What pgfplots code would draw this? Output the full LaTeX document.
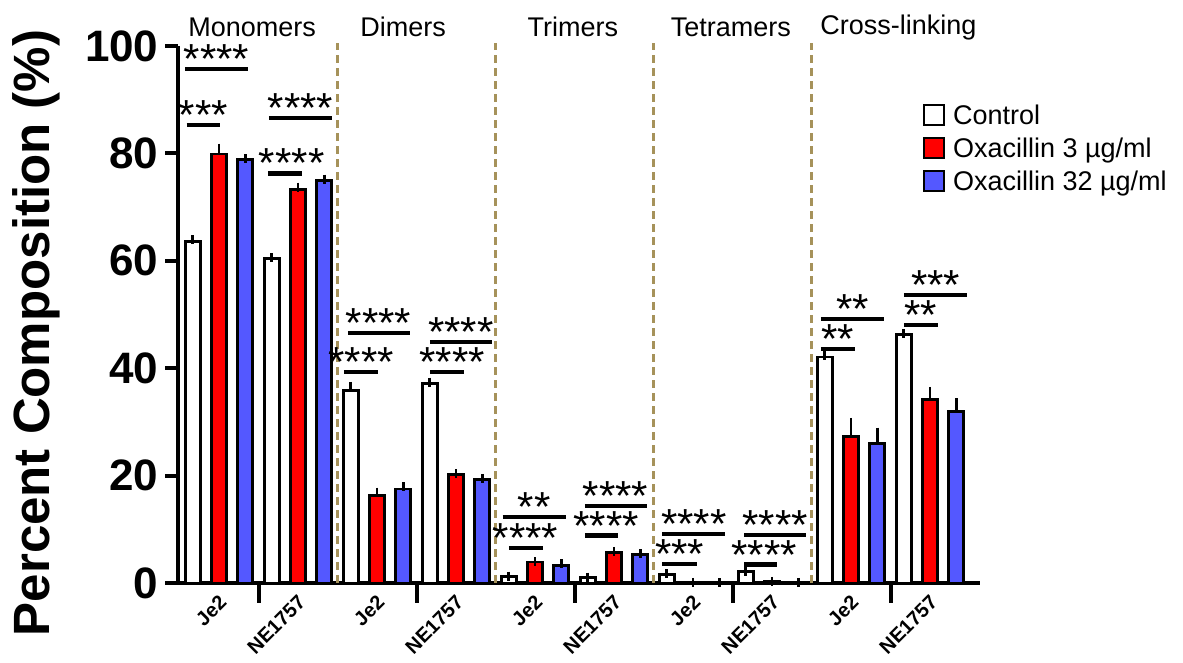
\documentclass[border=0pt]{standalone}
\usepackage{pgfplots}
\pgfplotsset{compat=1.18}
\usepackage{pgfplotstable}
\usepackage{fontspec}
\setmainfont{Liberation Sans}

\definecolor{oxared}{RGB}{255,0,0}
\definecolor{oxablue}{RGB}{84,88,255}
\definecolor{divider}{RGB}{166,146,90}

% Muropeptide composition (%), mean and upper SEM
% groups: 0/1 monomers, 2/3 dimers, 4/5 trimers, 6/7 tetramers, 8/9 cross-linking
% (even = Je2, odd = NE1757)
\pgfplotstableread{
grp ctl  ctlerr ox3  ox3err ox32 ox32err
0   63.6 0.3    79.9 1.1    78.9 0.1
1   60.5 0.1    73.3 0.4    75.0 0.2
2   35.8 0.8    16.3 0.6    17.5 0.4
3   37.2 0.2    20.2 0.1    19.3 0.2
4   1.2  0.1    3.9  0.1    3.3  0.3
5   1.0  0.1    5.7  0.2    5.3  0.1
6   1.6  0.1    0.1  0.0    0.05 0.0
7   2.1  0.1    0.3  0.0    0.1  0.0
8   42.1 0.3    27.3 2.6    26.0 2.1
9   46.3 0.2    34.2 1.5    32.0 1.6
}\composition

% significance brackets (segments separated by nan)
\pgfplotstableread{
x     y
-0.43 95.7
0.37  95.7
nan   nan
-0.41 85.3
0.01  85.3
nan   nan
0.63  86.6
1.43  86.6
nan   nan
0.62  76.3
1.05  76.3
nan   nan
1.63  46.6
2.42  46.6
nan   nan
1.58  39.3
2.01  39.3
nan   nan
2.67  44.9
3.46  44.9
nan   nan
2.67  39.3
3.10  39.3
nan   nan
3.59  12.3
4.39  12.3
nan   nan
3.67  6.5
4.10  6.5
nan   nan
4.63  14.3
5.42  14.3
nan   nan
4.63  8.8
5.05  8.8
nan   nan
5.61  9.1
6.41  9.1
nan   nan
5.61  3.5
6.05  3.5
nan   nan
6.65  8.9
7.43  8.9
nan   nan
6.65  3.4
7.06  3.4
nan   nan
7.62  49.2
8.42  49.2
nan   nan
7.62  43.6
8.05  43.6
nan   nan
8.67  53.6
9.47  53.6
nan   nan
8.67  48.0
9.10  48.0
}\sigbars

\pgfplotstableread{
x     y     label
-0.03 95.7  ****
-0.20 85.3  ***
1.03  86.6  ****
0.92  76.3  ****
2.02  46.6  ****
1.80  39.3  ****
3.06  44.9  ****
2.95  39.3  ****
3.99  12.3  **
3.88  6.5   ****
5.02  14.3  ****
4.90  8.8   ****
6.01  9.1   ****
5.83  3.5   ***
7.04  8.9   ****
6.90  3.4   ****
8.02  49.2  **
7.83  43.6  **
9.07  53.6  ***
8.88  48.0  **
}\siglabels

% dashed separators between the muropeptide classes
\pgfplotstableread{
x   y
1.5 0
1.5 100.5
nan nan
3.5 0
3.5 100.5
nan nan
5.5 0
5.5 100.5
nan nan
7.5 0
7.5 100.5
}\separators

\begin{document}
\begin{tikzpicture}
\useasboundingbox (0pt,0pt) rectangle (1183pt,663pt);
\begin{axis}[
  at={(178pt,80pt)}, anchor=south west,
  scale only axis, width=802pt, height=537pt,
  xmin=-0.519, xmax=9.633, ymin=0, ymax=100,
  clip=false,
  axis x line=bottom, axis y line=left,
  axis line style={-, line width=4pt, black},
  tick align=outside,
  tick style={line width=4pt, black},
  ytick={0,20,...,100},
  major tick length=13pt,
  minor tick length=20pt,
  yticklabel style={font=\bfseries\fontsize{44}{44}\selectfont, xshift=-3pt},
  /pgf/number format/assume math mode=true,
  xtick={0,...,9},
  xticklabels={Je2,NE1757,Je2,NE1757,Je2,NE1757,Je2,NE1757,Je2,NE1757},
  major x tick style={draw=none},
  minor xtick={0.5,2.5,4.5,6.5,8.5},
  minor x tick style={draw=black, line width=4pt},
  xticklabel style={font=\bfseries\fontsize{20}{20}\selectfont, rotate=45, anchor=east, xshift=4pt, yshift=-5pt},
  legend style={at={(rel axis cs:0.929,0.897)}, anchor=north west, draw=none, fill=none,
    font=\fontsize{27}{32}\selectfont, row sep=6pt, inner sep=0pt,
    nodes={inner sep=3pt},
    /tikz/every odd column/.append style={column sep=5pt}},
  legend cell align=left,
]

% class separators
\addplot[divider, line width=2.5pt, dash pattern=on 8pt off 5pt, unbounded coords=jump, forget plot]
  table[x=x, y=y] {\separators};

% bars with upper error bars
\addplot[ybar, bar width=0.19, bar shift=0pt, fill=white, draw=black, line width=2.8pt,
  legend image code/.code={\draw[line width=1.8pt, draw=black, fill=white] (0pt,-10pt) rectangle (20pt,10pt);},
  error bars/.cd, y dir=plus, y explicit,
  error bar style={line width=2.5pt, black},
  error mark options={line width=2.5pt, mark size=4.5pt, black}]
  table[x expr=\thisrow{grp}-0.333, y=ctl, y error=ctlerr] {\composition};
\addlegendentry{Control}
\addplot[ybar, bar width=0.19, bar shift=0pt, fill=oxared, draw=black, line width=2.8pt,
  legend image code/.code={\draw[line width=1.8pt, draw=black, fill=oxared] (0pt,-10pt) rectangle (20pt,10pt);},
  error bars/.cd, y dir=plus, y explicit,
  error bar style={line width=2.5pt, black},
  error mark options={line width=2.5pt, mark size=4.5pt, black}]
  table[x=grp, y=ox3, y error=ox3err] {\composition};
\addlegendentry{Oxacillin 3 µg/ml}
\addplot[ybar, bar width=0.19, bar shift=0pt, fill=oxablue, draw=black, line width=2.8pt,
  legend image code/.code={\draw[line width=1.8pt, draw=black, fill=oxablue] (0pt,-10pt) rectangle (20pt,10pt);},
  error bars/.cd, y dir=plus, y explicit,
  error bar style={line width=2.5pt, black},
  error mark options={line width=2.5pt, mark size=4.5pt, black}]
  table[x expr=\thisrow{grp}+0.333, y=ox32, y error=ox32err] {\composition};
\addlegendentry{Oxacillin 32 µg/ml}

% significance brackets and stars
\addplot[black, line width=4.5pt, unbounded coords=jump, forget plot]
  table[x=x, y=y] {\sigbars};
\addplot[draw=none, mark=none, forget plot,
  nodes near coords, point meta=explicit symbolic,
  nodes near coords style={anchor=base, inner sep=0pt, yshift=-4.5pt,
    font=\fontsize{42}{42}\selectfont, black}]
  table[x=x, y=y, meta=label] {\siglabels};

% class titles
\node[font=\fontsize{27}{32}\selectfont] at (axis cs:0.42,103.5) {Monomers};
\node[font=\fontsize{27}{32}\selectfont] at (axis cs:2.33,103.5) {Dimers};
\node[font=\fontsize{27}{32}\selectfont] at (axis cs:4.48,103.5) {Trimers};
\node[font=\fontsize{27}{32}\selectfont] at (axis cs:6.48,103.5) {Tetramers};
\node[font=\fontsize{27}{32}\selectfont] at (axis cs:8.60,103.5) {Cross-linking};
\end{axis}
\node[rotate=90, font=\bfseries\fontsize{51}{51}\selectfont] at (36pt,330pt) {Percent Composition (\%)};
\end{tikzpicture}
\end{document}
